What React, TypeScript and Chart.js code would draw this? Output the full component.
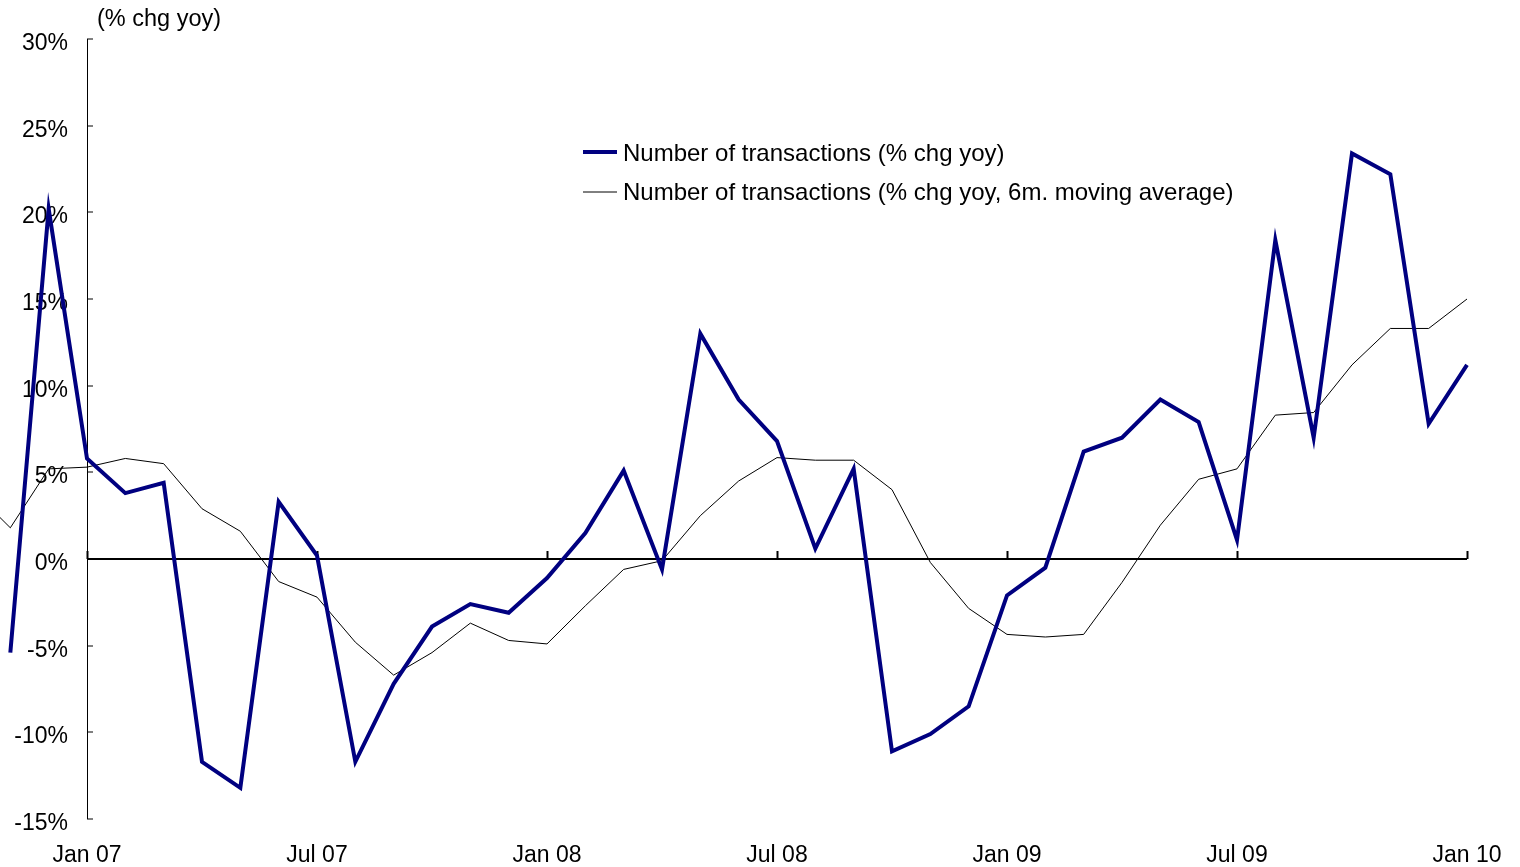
import React, { useEffect, useRef } from "react";
import { Chart, registerables } from "chart.js";

Chart.register(...registerables);

const FONT = "'Liberation Sans', Arial, Helvetica, sans-serif";

// Months covered by the data (Oct 06 .. Jan 10); x value = index + FIRST_MONTH_OFFSET (Jan 07 = 0)
const MONTHS = [
  "Oct 06", "Nov 06", "Dec 06",
  "Jan 07", "Feb 07", "Mar 07", "Apr 07", "May 07", "Jun 07", "Jul 07", "Aug 07", "Sep 07", "Oct 07", "Nov 07", "Dec 07",
  "Jan 08", "Feb 08", "Mar 08", "Apr 08", "May 08", "Jun 08", "Jul 08", "Aug 08", "Sep 08", "Oct 08", "Nov 08", "Dec 08",
  "Jan 09", "Feb 09", "Mar 09", "Apr 09", "May 09", "Jun 09", "Jul 09", "Aug 09", "Sep 09", "Oct 09", "Nov 09", "Dec 09",
  "Jan 10",
];
const FIRST_MONTH_OFFSET = -3;

const TRANSACTIONS_YOY: (number | null)[] = [
  null, -5.4, 20.2,
  5.8, 3.8, 4.4, -11.7, -13.2, 3.3, 0.2, -11.7, -7.2, -3.9, -2.6, -3.1,
  -1.1, 1.5, 5.1, -0.6, 13.0, 9.2, 6.8, 0.6, 5.2, -11.1, -10.1, -8.5,
  -2.1, -0.5, 6.2, 7.0, 9.2, 7.9, 1.1, 18.4, 7.0, 23.4, 22.2, 7.8,
  11.2,
];

const TRANSACTIONS_6M_MA: (number | null)[] = [
  4.0, 1.8, 5.2,
  5.3, 5.8, 5.5, 2.9, 1.6, -1.3, -2.2, -4.8, -6.7, -5.4, -3.7, -4.7,
  -4.9, -2.7, -0.6, -0.1, 2.5, 4.5, 5.85, 5.7, 5.7, 4.0, -0.2, -2.85,
  -4.35, -4.5, -4.35, -1.35, 1.95, 4.6, 5.2, 8.3, 8.45, 11.2, 13.3, 13.3,
  15.0,
];

const SERIES_LABELS = [
  "Number of transactions (% chg yoy)",
  "Number of transactions (% chg yoy, 6m. moving average)",
];
const SERIES_COLORS = ["#000080", "#000000"];
const SERIES_WIDTHS = [4, 1];

const X_TICK_VALUES = [0, 6, 12, 18, 24, 30, 36];
const X_TICK_LABELS = ["Jan 07", "Jul 07", "Jan 08", "Jul 08", "Jan 09", "Jul 09", "Jan 10"];
const X_MIN = 0;
const X_MAX = 36;

const Y_MIN = -15;
const Y_MAX = 30;
const Y_STEP = 5;

const UNIT_LABEL = "(% chg yoy)";

export default function App() {
  const ref = useRef<HTMLCanvasElement | null>(null);

  useEffect(() => {
    const canvas = ref.current;
    if (!canvas) return;

    const toPoints = (arr: (number | null)[]) =>
      arr.map((v, i) => ({ x: i + FIRST_MONTH_OFFSET, y: v }));

    const fixRange = (s: any) => {
      s.min = X_MIN;
      s.max = X_MAX;
    };
    const setTicks = (s: any) => {
      s.ticks = X_TICK_VALUES.map((v) => ({ value: v }));
    };

    const overlay = {
      id: "overlay",
      afterDraw(chart: any) {
        const ctx = chart.ctx;
        ctx.save();
        ctx.fillStyle = "#000";
        ctx.textBaseline = "middle";
        ctx.textAlign = "left";
        ctx.font = `23.5px ${FONT}`;
        ctx.fillText(UNIT_LABEL, 97, 20);

        const lx = 583;
        const lw = 34;
        const rows = [152, 192];
        const textShift = [2.5, 1];
        ctx.font = `24px ${FONT}`;
        chart.data.datasets.forEach((ds: any, i: number) => {
          const y = rows[i];
          ctx.strokeStyle = ds.borderColor;
          ctx.lineWidth = ds.borderWidth;
          ctx.beginPath();
          ctx.moveTo(lx, y);
          ctx.lineTo(lx + lw, y);
          ctx.stroke();
          ctx.fillText(ds.label, lx + lw + 6, y + textShift[i]);
        });
        ctx.restore();
      },
    };

    const chart = new Chart(canvas, {
      type: "line",
      data: {
        datasets: [
          {
            label: SERIES_LABELS[0],
            data: toPoints(TRANSACTIONS_YOY),
            borderColor: SERIES_COLORS[0],
            borderWidth: SERIES_WIDTHS[0],
            pointRadius: 0,
            tension: 0,
            clip: false,
            xAxisID: "x",
            yAxisID: "y",
          },
          {
            label: SERIES_LABELS[1],
            data: toPoints(TRANSACTIONS_6M_MA),
            borderColor: SERIES_COLORS[1],
            borderWidth: SERIES_WIDTHS[1],
            pointRadius: 0,
            tension: 0,
            clip: false,
            xAxisID: "x",
            yAxisID: "y",
          },
        ],
      } as any,
      options: {
        responsive: false,
        animation: false,
        layout: { padding: { left: 0, top: 39, right: 53, bottom: 0 } },
        plugins: {
          legend: { display: false },
          tooltip: { enabled: false },
          title: { display: false },
        },
        scales: {
          x: {
            type: "linear",
            position: "bottom",
            bounds: "data",
            afterDataLimits: fixRange,
            afterBuildTicks: setTicks,
            afterFit: (s: any) => {
              s.height = 48;
              s.paddingLeft = 0;
              s.paddingRight = 0;
            },
            grid: { display: false, drawTicks: false },
            border: { display: false },
            ticks: {
              padding: 23,
              color: "#000",
              maxRotation: 0,
              autoSkip: false,
              font: { size: 23, family: FONT },
              callback: (v: any) => {
                const k = X_TICK_VALUES.indexOf(Number(v));
                return k >= 0 ? X_TICK_LABELS[k] : "";
              },
            },
          },
          x2: {
            type: "linear",
            axis: "x",
            position: { y: 0 },
            bounds: "data",
            afterDataLimits: fixRange,
            afterBuildTicks: setTicks,
            afterFit: (s: any) => {
              s.paddingLeft = 0;
              s.paddingRight = 0;
            },
            grid: {
              display: true,
              drawOnChartArea: false,
              drawTicks: true,
              tickLength: -8,
              tickWidth: 2,
              tickColor: "#000",
            },
            border: { display: false },
            ticks: { display: false },
          },
          y: {
            type: "linear",
            position: "left",
            min: Y_MIN,
            max: Y_MAX,
            afterFit: (s: any) => {
              s.width = 87;
            },
            ticks: {
              stepSize: Y_STEP,
              padding: 25,
              labelOffset: 4.5,
              color: "#000",
              font: { size: 23, family: FONT },
              callback: (v: any) => `${v}%`,
            },
            grid: {
              drawOnChartArea: true,
              drawTicks: true,
              tickLength: -6,
              tickWidth: 1,
              tickColor: "#000",
              color: (c: any) => (c.tick && c.tick.value === 0 ? "#000" : "rgba(0,0,0,0)"),
              lineWidth: (c: any) => (c.tick && c.tick.value === 0 ? 2 : 0),
            },
            border: { display: true, color: "#000", width: 1 },
          },
        },
      } as any,
      plugins: [overlay],
    });

    return () => chart.destroy();
  }, []);

  return (
    <div
      style={{
        position: "fixed",
        left: 0,
        top: 0,
        width: 1520,
        height: 867,
        background: "#fff",
      }}
    >
      <canvas ref={ref} width={1520} height={867} style={{ display: "block" }} />
    </div>
  );
}
